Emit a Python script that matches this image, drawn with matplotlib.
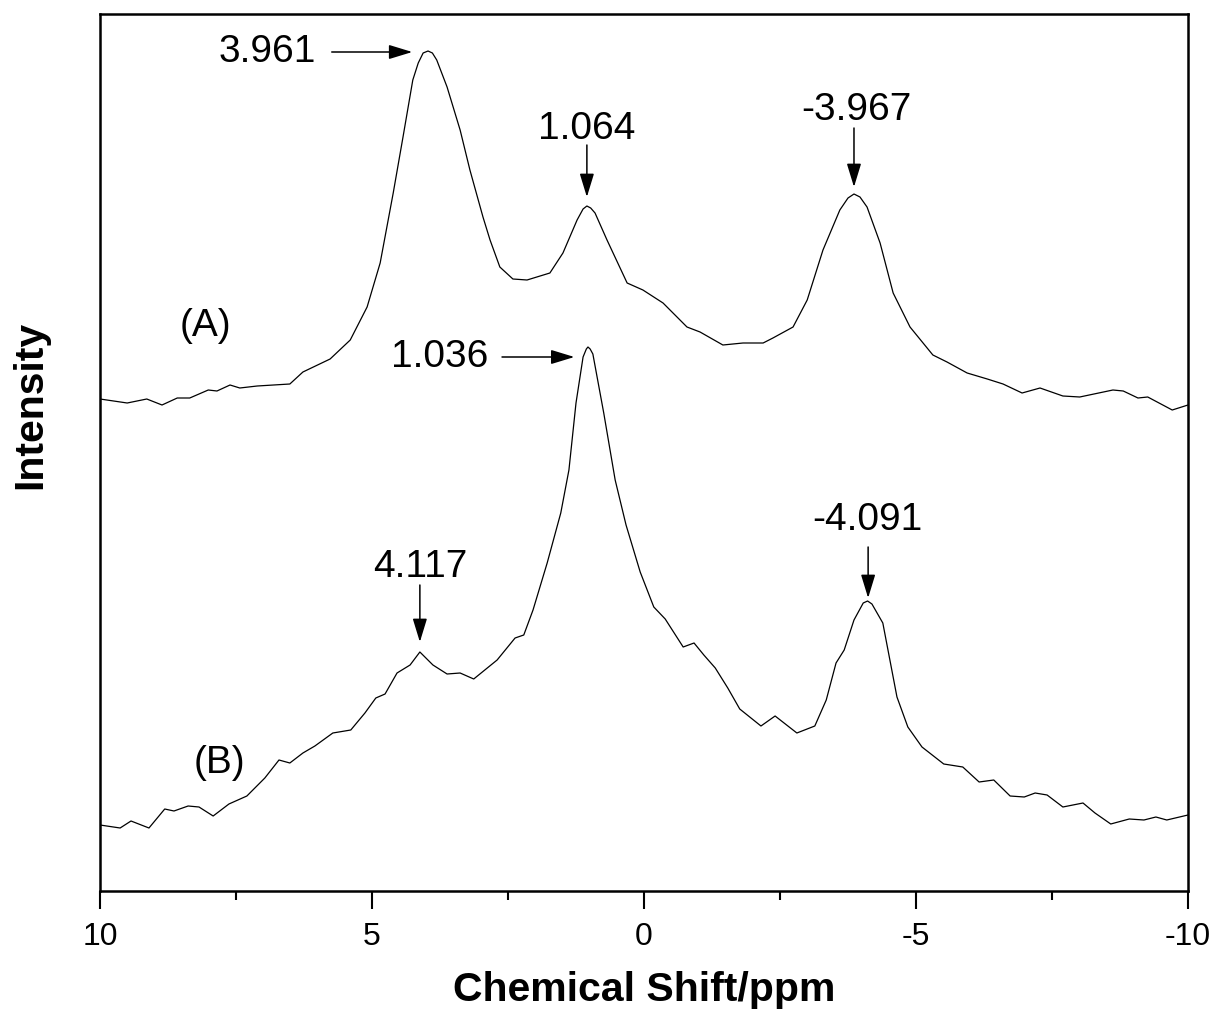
import numpy as np
import matplotlib
matplotlib.use('Agg')
import matplotlib.pyplot as plt
from matplotlib.ticker import MultipleLocator, FixedLocator

plt.rcParams['font.family'] = ['Liberation Sans', 'DejaVu Sans']
plt.rcParams['axes.unicode_minus'] = False

# ============== spectrum A (chemical shift in ppm, intensity in a.u.) ==============
shiftA = [10.00, 9.50, 9.14, 8.86, 8.58, 8.35, 8.01, 7.85, 7.61, 7.43, 7.11, 6.51, 6.27,
          5.77, 5.40, 5.09, 4.85, 4.61, 4.43, 4.25, 4.15, 4.06, 3.97, 3.89, 3.81, 3.62,
          3.38, 3.20, 2.96, 2.83, 2.65, 2.41, 2.15, 1.73, 1.49, 1.23, 1.12, 1.05, 0.98,
          0.90, 0.68, 0.31, 0.02, -0.35, -0.79, -1.03, -1.45, -1.82, -2.19, -2.37, -2.74,
          -3.00, -3.29, -3.60, -3.75, -3.86, -3.97, -4.10, -4.34, -4.58, -4.89, -5.31,
          -5.57, -5.94, -6.31, -6.60, -6.95, -7.28, -7.70, -8.01, -8.62, -8.81, -9.08,
          -9.26, -9.71, -10.00]
intA = [492, 488, 492, 486, 493, 493, 501, 500, 506, 503, 505, 507, 519,
        532, 551, 584, 628, 698, 754, 811, 828, 838, 840, 838, 831, 804,
        761, 721, 674, 651, 624, 612, 611, 618, 638, 671, 682, 685, 683,
        678, 651, 608, 601, 588, 564, 559, 546, 548, 548, 553, 564,
        591, 641, 681, 693, 697, 694, 684, 648, 598, 564, 536,
        529, 518, 512, 507, 498, 503, 495, 494, 501, 500, 493,
        494, 481, 486]

# ============== spectrum B ==============
shiftB = [10.00, 9.63, 9.43, 9.10, 8.81, 8.64, 8.38, 8.18, 7.92, 7.63, 7.30, 6.97, 6.71,
          6.51, 6.27, 6.05, 5.72, 5.39, 5.13, 4.93, 4.76, 4.54, 4.30, 4.12, 3.88, 3.62,
          3.38, 3.13, 2.70, 2.37, 2.21, 2.04, 1.78, 1.53, 1.38, 1.25, 1.12, 1.06, 1.03,
          0.99, 0.94, 0.74, 0.53, 0.33, 0.07, -0.18, -0.39, -0.72, -0.92, -1.10, -1.31,
          -1.54, -1.76, -2.15, -2.41, -2.81, -3.14, -3.35, -3.53, -3.68, -3.86, -4.03,
          -4.11, -4.19, -4.39, -4.65, -4.85, -5.11, -5.51, -5.86, -6.16, -6.43, -6.73,
          -6.99, -7.19, -7.41, -7.70, -8.07, -8.29, -8.58, -8.92, -9.19, -9.41, -9.61,
          -10.00]
intB = [66, 63, 70, 63, 82, 80, 85, 84, 75, 87, 95, 113, 131,
        128, 138, 145, 158, 161, 178, 193, 197, 218, 226, 239, 226, 217,
        218, 212, 231, 253, 256, 281, 328, 378, 421, 488, 534, 542, 544,
        542, 537, 478, 411, 366, 319, 284, 272, 244, 248, 236, 223,
        203, 182, 165, 175, 158, 165, 191, 228, 241, 271, 288,
        290, 287, 268, 194, 164, 144, 127, 124, 109, 111, 95,
        94, 98, 96, 84, 88, 78, 67, 72, 71, 74, 71,
        76]

# peak labels: (text, text pos, arrow tail, arrow tip)
peakLabels = ['3.961', '1.064', '-3.967', '1.036', '4.117', '-4.091']
labelPos = [(6.93, 839), (1.06, 762), (-3.90, 781), (3.75, 534), (4.12, 324), (-4.10, 371)]
arrowTail = [(5.74, 839), (1.05, 746), (-3.86, 763), (2.61, 534), (4.12, 306), (-4.12, 344)]
arrowTip = [(4.26, 839), (1.05, 694), (-3.86, 704), (1.28, 534), (4.12, 249), (-4.12, 293)]

traceNames = ['(A)', '(B)']
tracePos = [(8.07, 565), (7.81, 128)]

xTicks = [10, 5, 0, -5, -10]
xMinorTicks = [7.5, 2.5, -2.5, -7.5]
#==================================================

fig = plt.figure(figsize=(12.16, 10.25), dpi=100)
ax = fig.add_axes([100/1216, 134/1025, 1088/1216, 877/1025])

ax.plot(shiftA, intA, color='black', lw=0.9, solid_joinstyle='round')
ax.plot(shiftB, intB, color='black', lw=0.9, solid_joinstyle='round')

for txt, pos, tail, tip in zip(peakLabels, labelPos, arrowTail, arrowTip):
    ax.text(pos[0], pos[1], txt, fontsize=28, ha='center', va='center')
    ax.annotate('', xy=tip, xytext=tail,
                arrowprops=dict(arrowstyle='-|>,head_length=0.72,head_width=0.22',
                                mutation_scale=20, color='black', lw=1.1,
                                shrinkA=0, shrinkB=0))

for name, pos in zip(traceNames, tracePos):
    ax.text(pos[0], pos[1], name, fontsize=28, ha='center', va='center')

ax.set_xlim(10, -10)
ax.set_ylim(0, 877)
ax.xaxis.set_major_locator(FixedLocator(xTicks))
ax.xaxis.set_minor_locator(FixedLocator(xMinorTicks))
ax.set_yticks([])
ax.tick_params(axis='x', which='major', direction='out', length=13, width=1.5,
               labelsize=23, pad=9)
ax.tick_params(axis='x', which='minor', direction='out', length=6.5, width=1.5)
for sp in ax.spines.values():
    sp.set_linewidth(1.8)

fig.text(644/1216, 1 - 990/1025, 'Chemical Shift/ppm', fontsize=29.5,
         fontweight='bold', ha='center', va='center')
fig.text(30/1216, 1 - 405/1025, 'Intensity', fontsize=29.5, fontweight='bold',
         rotation=90, ha='center', va='center')

fig.savefig('out.png', dpi=100)
